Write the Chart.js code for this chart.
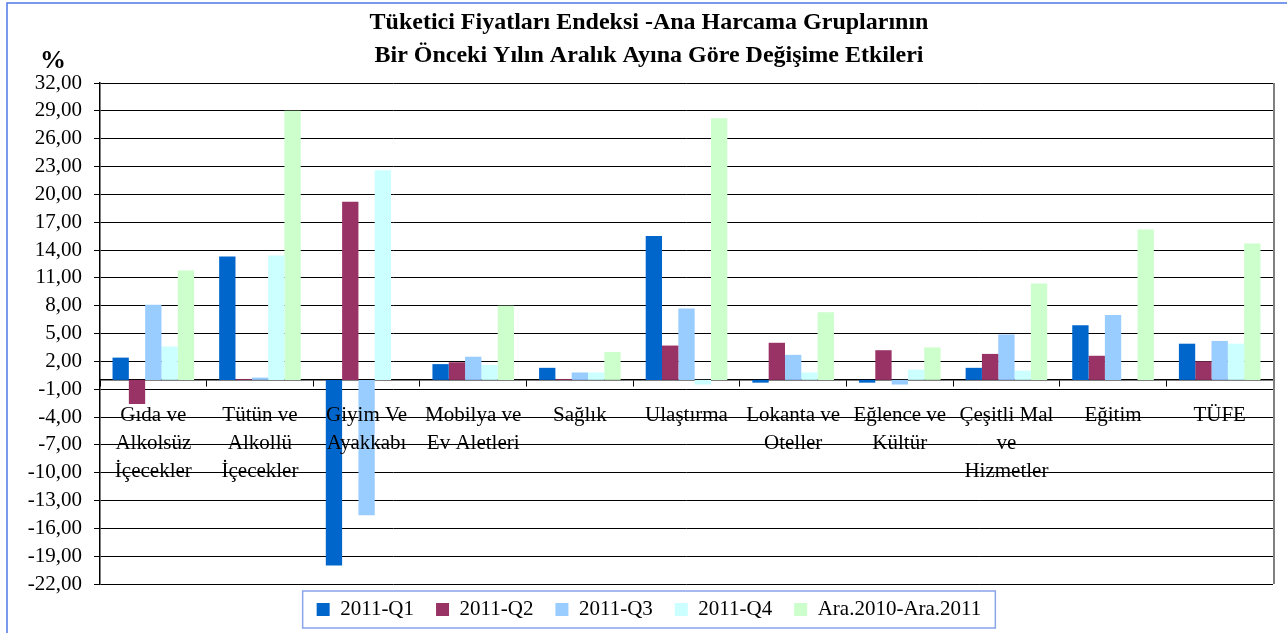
<!DOCTYPE html>
<html>
<head>
<meta charset="utf-8">
<script src="https://cdn.jsdelivr.net/npm/chart.js@4.4.1/dist/chart.umd.min.js"></script>
<style>
  html, body { margin: 0; padding: 0; background: #fff; }
  canvas { display: block; }
</style>
</head>
<body>
<canvas id="c" width="1287" height="633"></canvas>
<script>
const titleLines = ['Tüketici Fiyatları Endeksi -Ana Harcama Gruplarının', 'Bir Önceki Yılın Aralık Ayına Göre Değişime Etkileri'];
const unitLabel = '%';
const categories = [
  ['Gıda ve', 'Alkolsüz', 'İçecekler'],
  ['Tütün ve', 'Alkollü', 'İçecekler'],
  ['Giyim Ve', 'Ayakkabı'],
  ['Mobilya ve', 'Ev Aletleri'],
  'Sağlık',
  'Ulaştırma',
  ['Lokanta ve', 'Oteller'],
  ['Eğlence ve', 'Kültür'],
  ['Çeşitli Mal', 've', 'Hizmetler'],
  'Eğitim',
  'TÜFE'
];
const seriesNames = ['2011-Q1', '2011-Q2', '2011-Q3', '2011-Q4', 'Ara.2010-Ara.2011'];
const q1 = [2.4, 13.3, -20.0, 1.7, 1.3, 15.5, -0.3, -0.3, 1.3, 5.9, 3.9];
const q2 = [-2.6, 0.1, 19.2, 1.9, 0.1, 3.7, 4.0, 3.2, 2.8, 2.6, 2.0];
const q3 = [8.1, 0.25, -14.6, 2.5, 0.8, 7.7, 2.7, -0.5, 4.9, 7.0, 4.2];
const q4 = [3.6, 13.4, 22.6, 1.6, 0.8, -0.5, 0.8, 1.1, 1.0, 0, 3.9];
const annual = [11.8, 29.0, 0, 8.0, 3.0, 28.2, 7.3, 3.5, 10.4, 16.2, 14.7];
const yMin = -22, yMax = 32, yStep = 3;

const colors = ['#0066CC', '#993366', '#99CCFF', '#CCFFFF', '#CCFFCC'];
const FONT = "'Liberation Serif', 'Times New Roman', serif";
Chart.defaults.font.family = FONT;
Chart.defaults.color = '#000';

const decor = {
  id: 'decor',
  beforeDraw(chart) {
    const ctx = chart.ctx;
    ctx.save();
    ctx.fillStyle = '#fff';
    ctx.fillRect(0, 0, chart.width, chart.height);
    ctx.restore();
  },
  afterLayout(chart) {
    const L = chart.legend;
    if (L) { L.top -= 7; L.bottom -= 7; }
  },
  afterDraw(chart) {
    const ctx = chart.ctx;
    const a = chart.chartArea;
    ctx.save();
    // outer frame
    ctx.strokeStyle = '#4d79e6';
    ctx.lineWidth = 1.5;
    ctx.strokeRect(7, 3, chart.width + 20, chart.height + 20);
    // plot area right border
    ctx.strokeStyle = '#808080';
    ctx.lineWidth = 2;
    ctx.beginPath();
    ctx.moveTo(a.right + 1, a.top);
    ctx.lineTo(a.right + 1, a.bottom);
    ctx.stroke();
    // legend border
    const L = chart.legend;
    if (L && L.lineWidths) {
      const p = L.options.labels.padding;
      const rowStart = (L.left + p + L.right - L.lineWidths[0]) / 2;
      const rowEnd = rowStart + L.lineWidths[0] - p;
      const cy = L.top + p + 10.5;
      ctx.strokeStyle = '#8aa4ea';
      ctx.lineWidth = 1.5;
      ctx.strokeRect(rowStart - 14, cy - 18.5, rowEnd - rowStart + 28, 37);
    }
    // unit label
    ctx.fillStyle = '#000';
    ctx.font = "bold 26px " + FONT;
    ctx.textAlign = 'center';
    ctx.textBaseline = 'alphabetic';
    ctx.fillText(unitLabel, 53, 68);
    ctx.restore();
  }
};

const data = {
  labels: categories,
  datasets: [q1, q2, q3, q4, annual].map((vals, i) => ({
    label: seriesNames[i],
    data: vals,
    backgroundColor: colors[i],
    borderWidth: 0,
    categoryPercentage: 0.765,
    barPercentage: 1.0
  }))
};

new Chart(document.getElementById('c'), {
  type: 'bar',
  data,
  plugins: [decor],
  options: {
    responsive: false,
    animation: false,
    devicePixelRatio: 1,
    layout: { padding: { left: 25, right: 14, top: 0, bottom: 0 } },
    plugins: {
      tooltip: { enabled: false },
      title: {
        display: true,
        text: titleLines,
        color: '#000',
        font: { family: FONT, size: 24, weight: 'bold', lineHeight: 1.375 },
        padding: { top: 6.5, bottom: 10.5 }
      },
      legend: {
        position: 'bottom',
        maxHeight: 49,
        labels: {
          font: { family: FONT, size: 21 },
          color: '#000',
          boxWidth: 13,
          boxHeight: 13,
          padding: 22
        }
      }
    },
    scales: {
      x: {
        type: 'category',
        axis: 'x',
        position: { y: 0 },
        grid: {
          drawOnChartArea: false,
          drawTicks: true,
          tickLength: 6,
          color: '#000',
          offset: true
        },
        border: { display: true, color: '#000', width: 1.5 },
        ticks: {
          font: { family: FONT, size: 21, lineHeight: 1.333 },
          color: '#000',
          padding: 16,
          maxRotation: 0,
          minRotation: 0,
          autoSkip: false,
          z: 1
        }
      },
      y: {
        min: yMin,
        max: yMax,
        afterFit(scale) { scale.width = 75; },
        grid: {
          color: '#000',
          lineWidth: 1,
          tickLength: 6,
          drawTicks: true
        },
        border: { display: true, color: '#000', width: 1.5 },
        ticks: {
          stepSize: yStep,
          autoSkip: false,
          font: { family: FONT, size: 21 },
          color: '#000',
          padding: 12,
          callback: (v) => Number(v).toFixed(2).replace('.', ',')
        }
      }
    }
  }
});
</script>
</body>
</html>
